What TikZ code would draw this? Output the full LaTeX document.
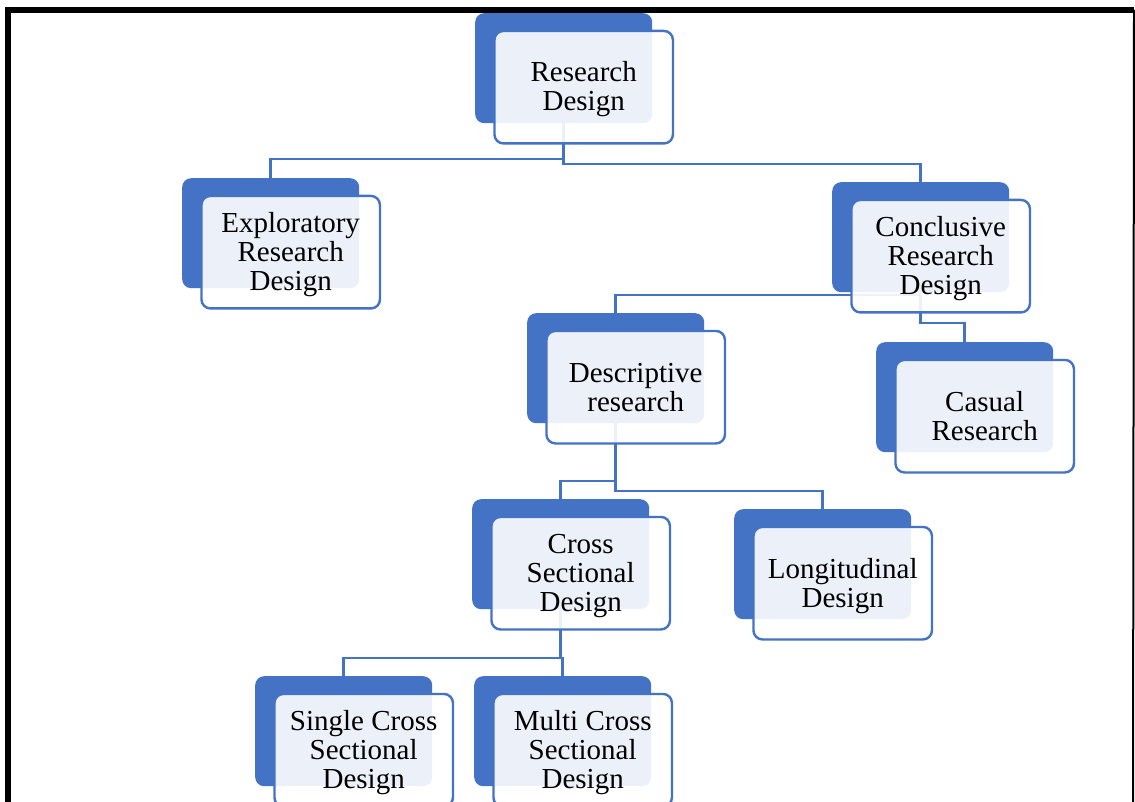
\documentclass[tikz,border=0pt]{standalone}
\usepackage{fontspec}
\setmainfont{Liberation Serif}
\usetikzlibrary{calc,backgrounds}
\definecolor{sablue}{HTML}{4472C4}
\newcommand\saback[3]{\node[backbox] (#1B) at (#2,#3) {};}
\newcommand\safront[2]{\node[frontbox] (#1F) at ($(#1B.center)+(20,19)$) {\raisebox{-3.5pt}[\height][\depth]{\begin{tabular}{@{}c@{}}#2\end{tabular}}};}
\begin{document}
\begin{tikzpicture}[x=1pt,y=-1pt,
  backbox/.style={fill=sablue, rounded corners=9pt, minimum width=177pt, minimum height=110pt, inner sep=0pt, anchor=north west},
  frontbox/.style={draw=sablue, line width=2.4pt, fill=white, fill opacity=0.9, text opacity=1, rounded corners=9pt, minimum width=178.5pt, minimum height=112.5pt, inner sep=0pt, font=\fontsize{29}{29}\selectfont},
  conn/.style={draw=sablue, line width=2.5pt},
  framel/.style={draw=black, line width=6pt}]
\useasboundingbox (0,0) rectangle (1135,802);
% back boxes
\saback{rd}{475}{13}
\saback{ex}{182}{178}
\saback{co}{832}{182}
\saback{de}{527}{313}
\saback{ca}{876}{342}
\saback{cs}{472}{499}
\saback{lo}{734}{509}
\saback{si}{255}{676}
\saback{mu}{474}{676}
% connectors
\begin{scope}[on background layer]
  \fill[white] (0,0) rectangle (1135,802);
  \coordinate (l1) at (0,159);
  \coordinate (l2) at (0,164);
  \coordinate (l3) at (0,295);
  \coordinate (l4) at (0,323);
  \coordinate (l5) at (0,481);
  \coordinate (l6) at (0,491);
  \coordinate (l7) at (0,658);
  \draw[conn] (rdB.south) -- (rdB.south |- l1) -| (exB.north);
  \draw[conn] (rdB.south) -- (rdB.south |- l2) -| (coB.north);
  \draw[conn] (coB.south) -- (coB.south |- l3) -| (deB.north);
  \draw[conn] (coB.south) -- (coB.south |- l4) -| (caB.north);
  \draw[conn] (deB.south) -- (deB.south |- l5) -| (csB.north);
  \draw[conn] (deB.south) -- (deB.south |- l6) -| (loB.north);
  \draw[conn] (csB.south) -- (csB.south |- l7) -| (siB.north);
  \draw[conn] (csB.south) -- (csB.south |- l7) -| (muB.north);
\end{scope}
% front boxes
\safront{rd}{Research\\Design}
\safront{ex}{Exploratory\\Research\\Design}
\safront{co}{Conclusive\\Research\\Design}
\safront{de}{Descriptive\\research}
\safront{ca}{Casual\\Research}
\safront{cs}{Cross\\Sectional\\Design}
\safront{lo}{Longitudinal\\Design}
\safront{si}{Single Cross\\Sectional\\Design}
\safront{mu}{Multi Cross\\Sectional\\Design}
% frame
\coordinate (fbl) at (8,820);
\coordinate (ftl) at (8,10);
\coordinate (ftr) at (1134,10);
\coordinate (fbr) at (1133,820);
\draw[framel] (fbl) -- (ftl) -- (ftr);
\draw[draw=black, line width=2pt] (ftr) -- (fbr);
\end{tikzpicture}
\end{document}
